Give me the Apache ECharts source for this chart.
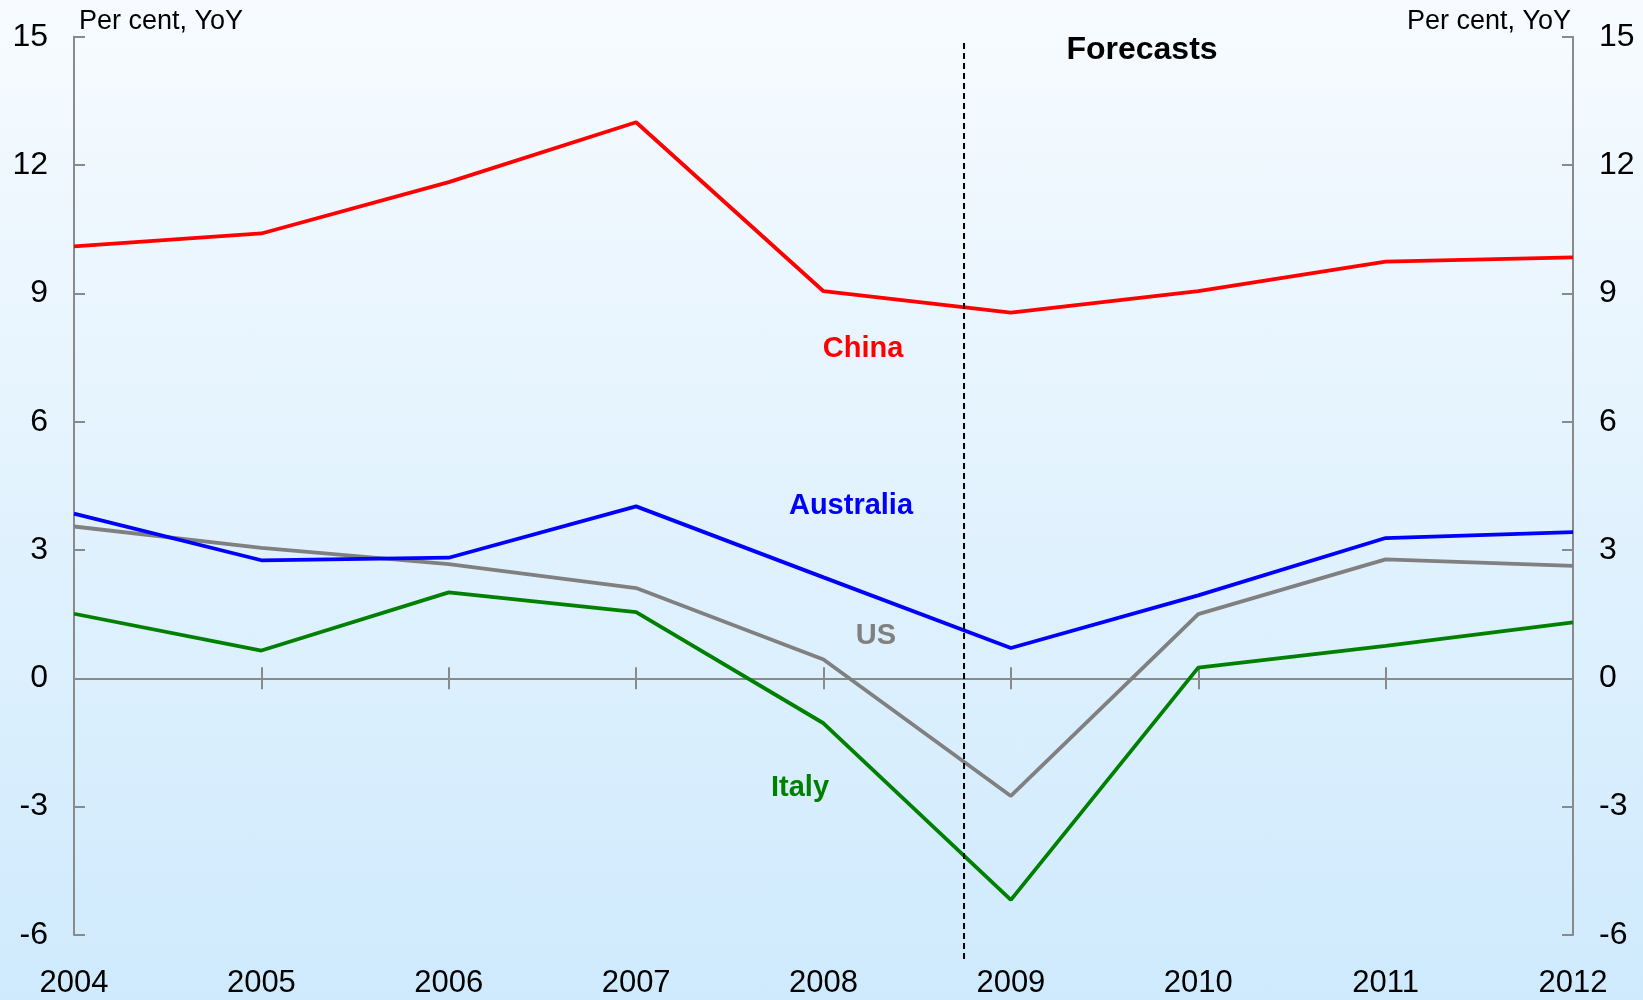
<!DOCTYPE html>
<html>
<head>
<meta charset="utf-8">
<script src="https://cdn.jsdelivr.net/npm/echarts@6/dist/echarts.min.js"></script>
<style>
html,body{margin:0;padding:0;}
#c{width:1643px;height:1000px;background:linear-gradient(to bottom,#f7fbff 0%,#e6f4fe 40%,#cfeafd 100%);}
</style>
</head>
<body>
<div id="c"></div>
<script>
var years = [2004, 2005, 2006, 2007, 2008, 2009, 2010, 2011, 2012];
var china = [10.1, 10.4, 11.6, 13.0, 9.05, 8.55, 9.05, 9.74, 9.84];
var australia = [3.85, 2.76, 2.82, 4.02, 2.36, 0.71, 1.94, 3.28, 3.42];
var us = [3.55, 3.05, 2.67, 2.11, 0.44, -2.75, 1.5, 2.78, 2.63];
var italy = [1.51, 0.65, 2.01, 1.55, -1.05, -5.18, 0.25, 0.76, 1.31];
var yTicks = [-6, -3, 0, 3, 6, 9, 12, 15];
var forecastStart = 2008.75;
var forecastSpan = [14.85, -6.57];

function pairs(vals){ return years.map(function(y,i){ return [y, vals[i]]; }); }

var chart = echarts.init(document.getElementById('c'));
var FONT = 'Liberation Sans, Arial, sans-serif';
var axisGray = '#8a8a8a';

var yBase = {
  type: 'value', min: yTicks[0], max: yTicks[yTicks.length-1], interval: 3,
  axisLine: {show: true, lineStyle: {color: axisGray, width: 2}},
  axisTick: {show: true, inside: true, length: 11, lineStyle: {color: axisGray, width: 2}},
  axisLabel: {fontSize: 32, color: '#000', fontFamily: FONT, margin: 26},
  splitLine: {show: false}
};

function line(name, vals, color){
  return {
    name: name, type: 'line', data: pairs(vals), xAxisIndex: 0, yAxisIndex: 0,
    symbol: 'none', lineStyle: {color: color, width: 3.8}, itemStyle: {color: color},
    z: 3, silent: true
  };
}

var option = {
  animation: false,
  grid: {left: 74, right: 70, top: 36.7, bottom: 65, containLabel: false},
  xAxis: [
    {type: 'value', min: years[0], max: years[years.length-1], interval: 1, position: 'bottom',
     axisLine: {show: true, onZero: true, lineStyle: {color: axisGray, width: 2}},
     axisTick: {show: true, inside: true, length: 11, lineStyle: {color: axisGray, width: 2}},
     axisLabel: {show: false}, splitLine: {show: false}},
    {type: 'value', min: years[0], max: years[years.length-1], interval: 1, position: 'bottom',
     axisLine: {show: false, onZero: true},
     axisTick: {show: true, inside: false, length: 11, lineStyle: {color: axisGray, width: 2}},
     axisLabel: {show: false}, splitLine: {show: false}},
    {type: 'value', min: years[0], max: years[years.length-1], interval: 1, position: 'bottom',
     axisLine: {show: false, onZero: false}, axisTick: {show: false},
     axisLabel: {show: true, fontSize: 31, color: '#000', fontFamily: FONT, margin: 33,
                 formatter: function(v){ return String(v); }},
     splitLine: {show: false}}
  ],
  yAxis: [
    Object.assign({}, yBase, {position: 'left'}),
    Object.assign({}, yBase, {position: 'right'})
  ],
  series: [
    line('US', us, '#808080'),
    line('Italy', italy, '#008000'),
    line('Australia', australia, '#0000ff'),
    line('China', china, '#ff0000')
  ],
  graphic: [
    {type: 'text', left: 79, top: 8, style: {text: 'Per cent, YoY', font: '27px ' + FONT, fill: '#000'}},
    {type: 'text', right: 72, top: 8, style: {text: 'Per cent, YoY', font: '27px ' + FONT, fill: '#000'}},
    {type: 'text', x: 1142, y: 50, style: {text: 'Forecasts', font: 'bold 32px ' + FONT, fill: '#000', align: 'center', verticalAlign: 'middle'}},
    {type: 'text', x: 863, y: 349, style: {text: 'China', font: 'bold 29px ' + FONT, fill: '#ff0000', align: 'center', verticalAlign: 'middle'}},
    {type: 'text', x: 851, y: 506, style: {text: 'Australia', font: 'bold 29px ' + FONT, fill: '#0000ff', align: 'center', verticalAlign: 'middle'}},
    {type: 'text', x: 876, y: 636, style: {text: 'US', font: 'bold 29px ' + FONT, fill: '#808080', align: 'center', verticalAlign: 'middle'}},
    {type: 'text', x: 800, y: 788, style: {text: 'Italy', font: 'bold 29px ' + FONT, fill: '#008000', align: 'center', verticalAlign: 'middle'}}
  ]
};
chart.setOption(option);

var pTop = chart.convertToPixel({xAxisIndex: 0, yAxisIndex: 0}, [forecastStart, forecastSpan[0]]);
var pBot = chart.convertToPixel({xAxisIndex: 0, yAxisIndex: 0}, [forecastStart, forecastSpan[1]]);
chart.setOption({
  graphic: [{
    id: 'forecastLine', type: 'line', z: 10, silent: true,
    shape: {x1: pTop[0], y1: pTop[1], x2: pBot[0], y2: pBot[1]},
    style: {stroke: '#000', lineWidth: 2, lineDash: [6, 4]}
  }]
});
</script>
</body>
</html>
